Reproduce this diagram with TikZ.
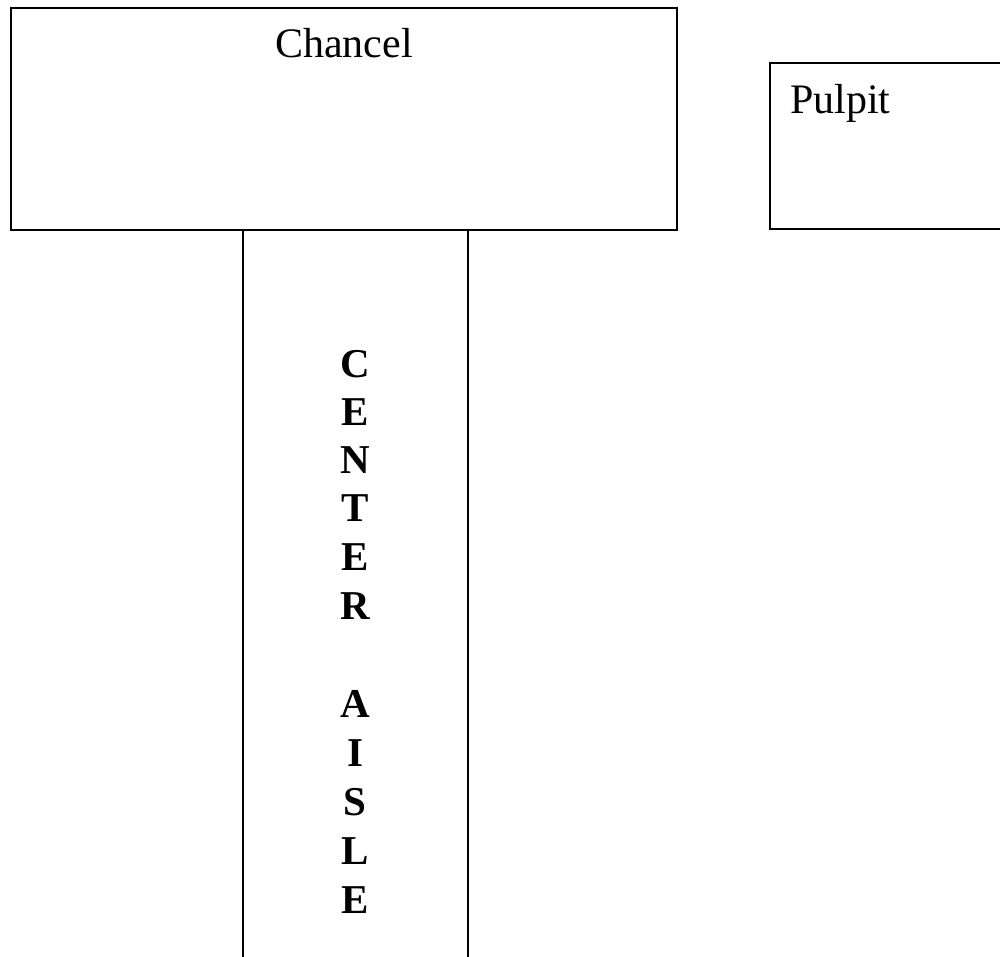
\documentclass[tikz,border=0pt]{standalone}
\usepackage{fontspec}
\setmainfont{Liberation Serif}
\begin{document}
\begin{tikzpicture}[x=1pt,y=-1pt,
  box/.style={draw=black,line width=1.8pt,inner sep=0pt,outer sep=0pt},
  wall/.style={draw=black,line width=1.8pt},
  label/.style={inner sep=0pt,font=\fontsize{42}{48}\selectfont},
  letter/.style={inner sep=0pt,anchor=base,font=\fontsize{41}{48}\selectfont\bfseries}]
\useasboundingbox (0,0) rectangle (1000,956);
\clip (0,0) rectangle (1000,956);
\fill[white] (0,0) rectangle (1000,956);
% Chancel
\node[box,minimum width=666pt,minimum height=222pt] (chancel) at (344,119) {};
\node[label,anchor=base] (chanceltext) at (344,57) {Chancel};
% Pulpit
\node[box,minimum width=240pt,minimum height=166pt,anchor=north west] (pulpit) at (770,63) {};
\node[label,anchor=base west] (pulpittext) at (790,113) {Pulpit};
% Center aisle
\coordinate (al) at (243,230);
\coordinate (ar) at (468,230);
\coordinate (bl) at (243,960);
\coordinate (br) at (468,960);
\draw[wall] (al) -- (bl);
\draw[wall] (ar) -- (br);
% Vertical text
\foreach \l/\y [count=\i] in {C/377,E/425,N/473,T/521,E/570,R/619,A/717,I/766,S/815,L/864,E/913}
  \node[letter] (v\i) at (355,\y) {\l};
\end{tikzpicture}
\end{document}
